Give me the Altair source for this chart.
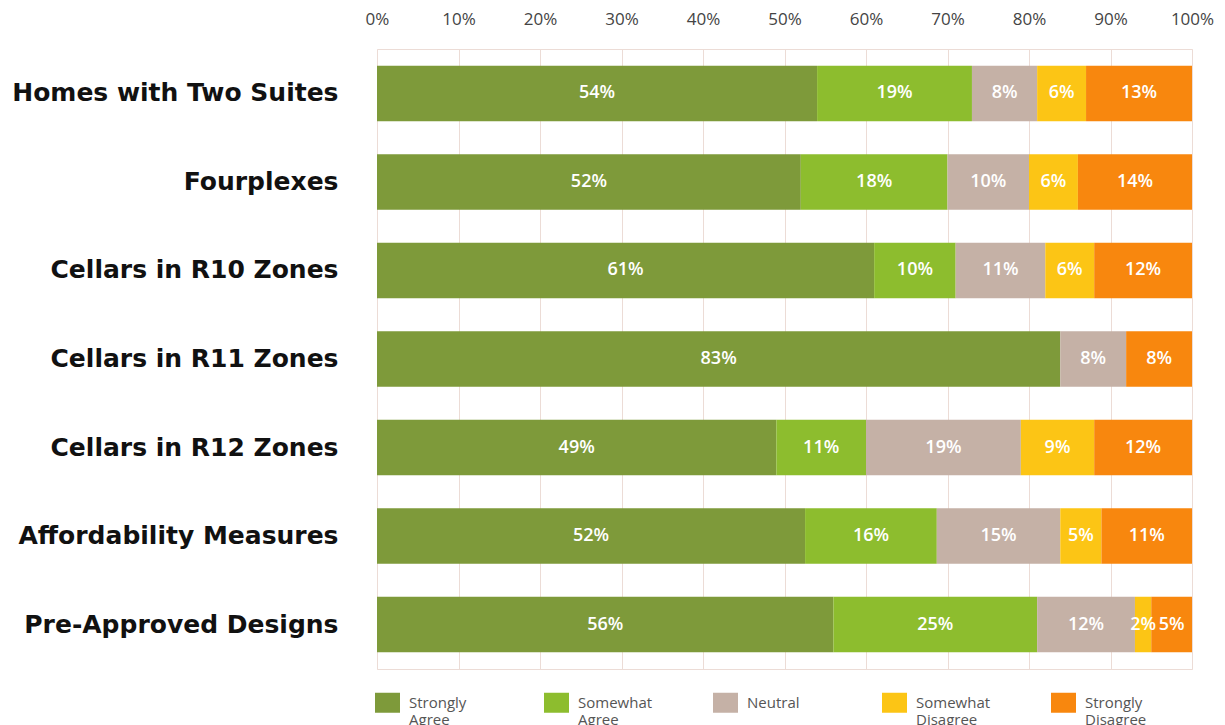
import altair as alt
import pandas as pd

categories = ["Homes with Two Suites", "Fourplexes", "Cellars in R10 Zones",
              "Cellars in R11 Zones", "Cellars in R12 Zones",
              "Affordability Measures", "Pre-Approved Designs"]
responses = ["Strongly Agree", "Somewhat Agree", "Neutral",
             "Somewhat Disagree", "Strongly Disagree"]
strongly_agree = [54, 52, 61, 83, 49, 52, 56]
somewhat_agree = [19, 18, 10, 0, 11, 16, 25]
neutral = [8, 10, 11, 8, 19, 15, 12]
somewhat_disagree = [6, 6, 6, 0, 9, 5, 2]
strongly_disagree = [13, 14, 12, 8, 12, 11, 5]
colors = ["#7e9a3a", "#8dbd2e", "#c5b1a6", "#fcc515", "#f8870e"]

series = [strongly_agree, somewhat_agree, neutral, somewhat_disagree, strongly_disagree]
rows = []
for ci, cat in enumerate(categories):
    for ri, resp in enumerate(responses):
        rows.append({"category": cat, "response": resp, "order": ri,
                     "value": series[ri][ci]})
df = pd.DataFrame(rows)

base = alt.Chart(df).transform_filter("datum.value > 0").transform_joinaggregate(
    total="sum(value)", groupby=["category"]
).transform_window(
    cum="sum(value)", sort=[alt.SortField("order")], groupby=["category"],
    frame=[None, 0]
).transform_calculate(
    x1="(datum.cum - datum.value) / datum.total",
    x2="datum.cum / datum.total",
    xm="(datum.cum - datum.value / 2) / datum.total",
    label="datum.value + '%'"
)

y_enc = alt.Y("category:N", sort=categories, title=None,
              scale=alt.Scale(paddingInner=0.375, paddingOuter=0.19),
              axis=alt.Axis(labelFont="DejaVu Sans", labelFontWeight="bold", labelFontSize=25,
                            labelColor="#111111", labelPadding=39, ticks=False,
                            domain=False, labelLimit=400))

bars = base.mark_bar().encode(
    x=alt.X("x1:Q", scale=alt.Scale(domain=[0, 1]),
            axis=alt.Axis(orient="top", format=".0%", values=[i / 10 for i in range(11)],
                          grid=True, gridColor="#ecdcd6", gridWidth=1,
                          ticks=False, domain=False, labelPadding=21,
                          labelFlush=False,
                          labelFont="Open Sans", labelFontSize=17, labelColor="#444444",
                          title=None)),
    x2="x2:Q",
    y=y_enc,
    color=alt.Color("response:N", scale=alt.Scale(domain=responses, range=colors),
                    legend=alt.Legend(orient="none", legendX=-2, legendY=641,
                                      direction="horizontal", columns=5, title=None,
                                      symbolType="M-1,-0.8H1V0.8H-1Z", symbolSize=625,
                                      symbolStrokeWidth=0, symbolOpacity=1,
                                      labelExpr="datum.label == 'Neutral' ? ['Neutral', ' '] : split(datum.label, ' ')",
                                      labelFont="Open Sans", labelFontSize=15,
                                      labelColor="#555555", labelBaseline="middle",
                                      labelOffset=9, columnPadding=60,
                                      gridAlign="all")),
)

labels = base.mark_text(color="white", font="Open Sans", fontWeight=600,
                        fontSize=18).encode(
    x="xm:Q",
    y=alt.Y("category:N", sort=categories),
    text="label:N",
)

chart = (bars + labels).properties(
    width=815, height=620,
    autosize=alt.AutoSizeParams(type="none"),
    padding={"left": 377, "top": 49, "right": 33, "bottom": 56},
).configure_view(stroke="#ecdcd6")

chart.save("out.html", embed_options={"renderer": "svg", "actions": False})
